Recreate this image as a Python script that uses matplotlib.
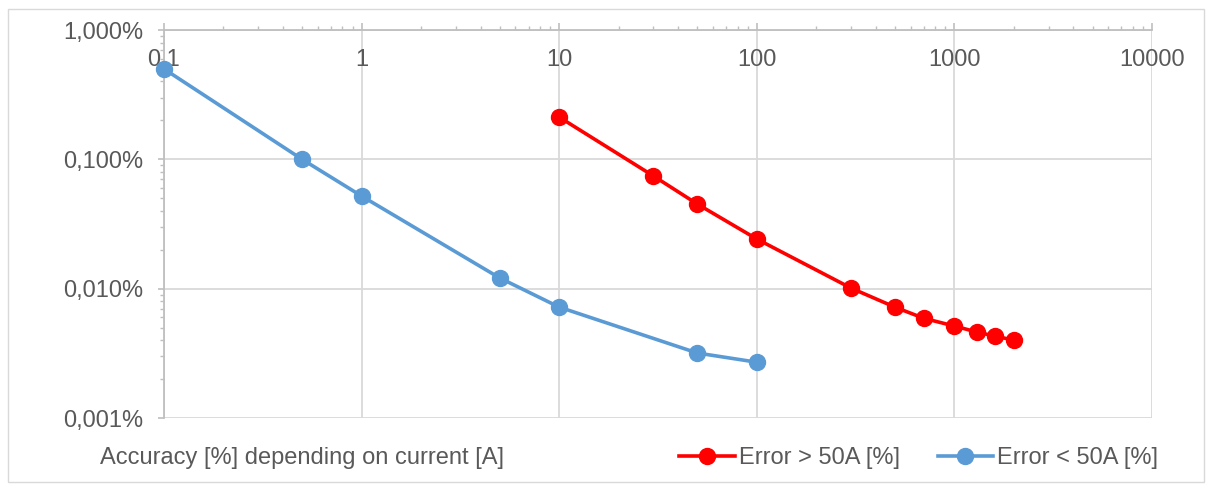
import numpy as np
import matplotlib.pyplot as plt
from matplotlib.ticker import LogLocator, NullFormatter, FixedLocator
from matplotlib.lines import Line2D
from matplotlib.patches import Rectangle

plt.rcParams['font.family'] = ['Liberation Sans', 'DejaVu Sans']

# Data (current in A, error in %)
cur_low = [0.1, 0.5, 1, 5, 10, 50, 100]
err_low = [0.5, 0.1, 0.052, 0.0121, 0.0072, 0.00318, 0.0027]

cur_high = [10, 30, 50, 100, 300, 500, 700, 1000, 1300, 1600, 2000]
err_high = [0.212, 0.0743, 0.0451, 0.0242, 0.0101, 0.0072, 0.0059, 0.00514, 0.00462, 0.0043, 0.0040]

x_ticks = [0.1, 1, 10, 100, 1000, 10000]
x_labels = ['0,1', '1', '10', '100', '1000', '10000']
y_ticks = [0.001, 0.01, 0.1, 1]

label_high = 'Error > 50A [%]'
label_low = 'Error < 50A [%]'
caption = 'Accuracy [%] depending on current [A]'

red = '#ff0000'
blue = '#5b9bd5'
txt = '#595959'
grid_c = '#d9d9d9'
axis_c = '#bfbfbf'
fs = 17
lw = 2.6
ms = 11.5

W, H = 1212, 490
fig = plt.figure(figsize=(W / 100, H / 100), dpi=100)

# outer chart border
fig.patches.append(Rectangle((8 / W, 8 / H), 1196 / W, 473 / H, transform=fig.transFigure,
                             fill=False, edgecolor='#d9d9d9', linewidth=1))

ax = fig.add_axes([164 / W, 1 - 418 / H, 988 / W, 388 / H])
ax.set_xscale('log')
ax.set_yscale('log')
ax.set_xlim(0.1, 10000)
ax.set_ylim(0.001, 1)

ax.plot(cur_low, err_low, color=blue, lw=lw, marker='o', ms=ms, zorder=3, clip_on=False)
ax.plot(cur_high, err_high, color=red, lw=lw, marker='o', ms=ms, zorder=3, clip_on=False)

# grid
ax.grid(True, which='major', color=grid_c, lw=1.3, zorder=0)
ax.set_axisbelow(True)

for s in ['right', 'bottom']:
    ax.spines[s].set_visible(False)
for s in ['left', 'top']:
    ax.spines[s].set_color(axis_c)
    ax.spines[s].set_linewidth(1.3)

# x axis on top, labels drawn inside the plot
ax.xaxis.tick_top()
ax.xaxis.set_major_locator(FixedLocator(x_ticks))
ax.xaxis.set_minor_locator(LogLocator(base=10, subs=np.arange(2, 10), numticks=20))
ax.xaxis.set_major_formatter(NullFormatter())
ax.xaxis.set_minor_formatter(NullFormatter())
ax.tick_params(axis='x', which='major', direction='out', length=5, width=1.2, color=axis_c)
ax.tick_params(axis='x', which='minor', direction='out', length=3, width=1.0, color=axis_c)
for xv, lab in zip(x_ticks, x_labels):
    ax.text(xv, 1 - 30 / 388, lab, transform=ax.get_xaxis_transform(),
            ha='center', va='center', fontsize=fs, color=txt, zorder=2)

ax.yaxis.set_major_locator(FixedLocator(y_ticks))
ax.yaxis.set_minor_locator(LogLocator(base=10, subs=np.arange(2, 10), numticks=20))
ax.yaxis.set_minor_formatter(NullFormatter())
ax.set_yticklabels([f'{v:.3f}%'.replace('.', ',') for v in y_ticks])
ax.tick_params(axis='y', which='major', direction='out', length=4, width=1.2, color=axis_c,
               labelsize=fs, labelcolor=txt, pad=11)
ax.tick_params(axis='y', which='minor', direction='out', length=3, width=1.0, color=axis_c)

fig.text(100 / W, 1 - 458 / H, caption, ha='left', va='center', fontsize=fs, color=txt)

handles = [Line2D([], [], color=red, lw=lw, marker='o', ms=ms),
           Line2D([], [], color=blue, lw=lw, marker='o', ms=ms)]
fig.legend(handles, [label_high, label_low], loc='center right',
           bbox_to_anchor=(1158 / W, 1 - 458 / H), ncol=2, frameon=False,
           fontsize=fs, labelcolor=txt, handlelength=2.35, handletextpad=0.17,
           columnspacing=1.6, borderaxespad=0, borderpad=0)

fig.savefig('out.png', dpi=100)
